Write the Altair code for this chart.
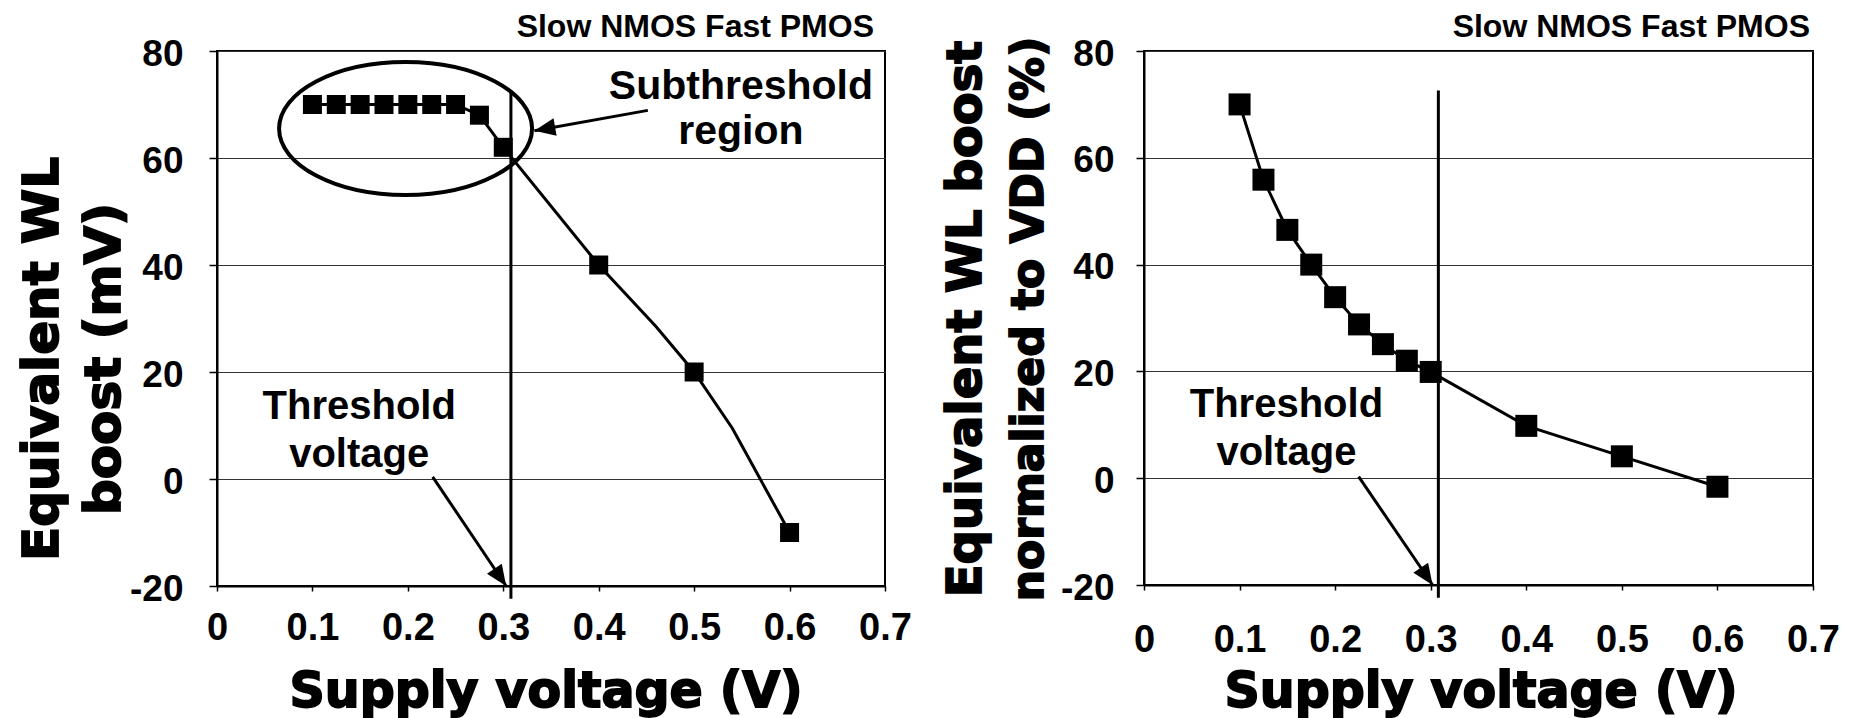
import altair as alt
import pandas as pd

# ---------------- data ----------------
left_x = [0.1, 0.125, 0.15, 0.175, 0.2, 0.225, 0.25, 0.275, 0.3, 0.4, 0.5, 0.6]
left_y = [70, 70, 70, 70, 70, 70, 70, 68, 62, 40, 20, -10]
# bends of the left curve that carry no marker
left_bend_x = [0.46, 0.54]
left_bend_y = [28.5, 9.5]

right_x = [0.1, 0.125, 0.15, 0.175, 0.2, 0.225, 0.25, 0.275, 0.3, 0.4, 0.5, 0.6]
right_y = [70, 55.9, 46.5, 40, 33.9, 28.8, 25.1, 22, 19.9, 9.8, 4.1, -1.6]

x_ticks = [0, 0.1, 0.2, 0.3, 0.4, 0.5, 0.6, 0.7]
y_ticks = [-20, 0, 20, 40, 60, 80]
x_domain = [0, 0.7]
y_domain = [-20, 80]

threshold_x = 0.308
threshold_y = [-22.4, 72.6]

corner_label = "Slow NMOS Fast PMOS"
x_title = "Supply voltage (V)"
left_y_title = ["Equivalent WL", "boost (mV)"]
right_y_title = ["Equivalent WL boost", "normalized to VDD (%)"]

threshold_text = ["Threshold", "voltage"]
threshold_text_x = 0.149
left_threshold_text_y = [11.3, 2.3]
right_threshold_text_y = [11.5, 2.4]

sub_text = ["Subthreshold", "region"]
sub_text_x = 0.549
sub_text_y = [71.0, 62.6]

# arrows: start x, start y, tip x, tip y, head angle (deg)
left_arrows_x0 = [0.226, 0.4515]
left_arrows_y0 = [0.4, 68.9]
left_arrows_x1 = [0.303, 0.3326]
left_arrows_y1 = [-20, 65.1]
left_arrows_ang = [145.9, 260]

right_arrows_x0 = [0.2246]
right_arrows_y0 = [0.3]
right_arrows_x1 = [0.302]
right_arrows_y1 = [-20]
right_arrows_ang = [145.5]

# ellipse around the subthreshold points
ellipse_x = [0.1976]
ellipse_y = [65.5]

# ---------------- styling ----------------
LAB = "Liberation Sans"
HEAVY = "DejaVu Sans"
ARROW_HEAD = "M0,0L0.85,2L-0.85,2Z"
ELLIPSE = ("M-1,0C-1,-0.2903,-0.5523,-0.5257,0,-0.5257"
           "C0.5523,-0.5257,1,-0.2903,1,0"
           "C1,0.2903,0.5523,0.5257,0,0.5257"
           "C-0.5523,0.5257,-1,0.2903,-1,0Z")

xs = alt.Scale(domain=x_domain, nice=False, zero=False)
ys = alt.Scale(domain=y_domain, nice=False, zero=False)


def make_axes(x_label_pad, y_label_pad):
    xa = alt.Axis(values=x_ticks, labelExpr="'' + datum.value", title=None,
                  grid=False,
                  tickSize=5, tickWidth=1.5, tickColor="black",
                  domainColor="black", domainWidth=2,
                  labelFont=LAB, labelFontSize=38, labelFontWeight="bold",
                  labelColor="black", labelPadding=x_label_pad,
                  labelFlush=False, labelOverlap=False)
    ya = alt.Axis(values=y_ticks, labelExpr="'' + datum.value", title=None,
                  grid=True, gridColor="#333333", gridWidth=1,
                  tickSize=8, tickWidth=1.5, tickColor="black",
                  domainColor="black", domainWidth=2,
                  labelFont=LAB, labelFontSize=37, labelFontWeight="bold",
                  labelColor="black", labelPadding=y_label_pad, labelOffset=3,
                  labelFlush=False, labelOverlap=False)
    return xa, ya


def pixel_text(text, px, py, font, size, angle=0, align="center", heavy=False):
    extra = {"stroke": "black", "strokeWidth": 1.8} if heavy else {}
    return alt.Chart(pd.DataFrame({"t": [text]})).mark_text(
        font=font, fontSize=size, fontWeight="bold", color="black",
        align=align, baseline="alphabetic", angle=angle, **extra
    ).encode(text="t:N", x=alt.value(px), y=alt.value(py))


def panel(px, py, bx, by, ax0, ay0, ax1, ay1, aang, th_y, marker_size,
          width, height, x_label_pad, y_label_pad, ytitle, ytitle_sizes,
          ytitle_x, ytitle_y, xtitle_x, corner_x, corner_y, with_sub):
    xa, ya = make_axes(x_label_pad, y_label_pad)

    def X(f):
        return alt.X(f"{f}:Q", scale=xs, axis=xa)

    def Y(f):
        return alt.Y(f"{f}:Q", scale=ys, axis=ya)

    line_df = pd.DataFrame({"x": px + bx, "y": py + by}).sort_values("x")
    mark_df = pd.DataFrame({"x": px, "y": py})

    layers = []
    layers.append(alt.Chart(line_df).mark_line(color="black", strokeWidth=3)
                  .encode(x=X("x"), y=Y("y")))
    layers.append(alt.Chart(mark_df).mark_square(size=marker_size, color="black",
                                                 opacity=1)
                  .encode(x=X("x"), y=Y("y")))
    vdf = pd.DataFrame({"x": [threshold_x], "y": [threshold_y[0]],
                        "y2": [threshold_y[1]]})
    layers.append(alt.Chart(vdf).mark_rule(color="black", strokeWidth=3)
                  .encode(x=X("x"), y=Y("y"), y2="y2:Q"))
    adf = pd.DataFrame({"x": ax0, "y": ay0, "x2": ax1, "y2": ay1, "ang": aang})
    layers.append(alt.Chart(adf).mark_rule(color="black", strokeWidth=3)
                  .encode(x=X("x"), y=Y("y"), x2="x2:Q", y2="y2:Q"))
    hdf = pd.DataFrame({"x": ax1, "y": ay1, "ang": aang})
    layers.append(alt.Chart(hdf).mark_point(shape=ARROW_HEAD, size=440,
                                            filled=True, color="black",
                                            opacity=1, strokeWidth=0)
                  .encode(x=X("x"), y=Y("y"),
                          angle=alt.Angle("ang:Q", scale=None)))
    tdf = pd.DataFrame({"x": [threshold_text_x] * 2, "y": th_y,
                        "t": threshold_text})
    layers.append(alt.Chart(tdf).mark_text(font=LAB, fontSize=40, fontWeight="bold",
                                           color="black", align="center",
                                           baseline="alphabetic")
                  .encode(x=X("x"), y=Y("y"), text="t:N"))
    if with_sub:
        sdf = pd.DataFrame({"x": [sub_text_x] * 2, "y": sub_text_y, "t": sub_text})
        layers.append(alt.Chart(sdf).mark_text(font=LAB, fontSize=41,
                                               fontWeight="bold", color="black",
                                               align="center",
                                               baseline="alphabetic")
                      .encode(x=X("x"), y=Y("y"), text="t:N"))
        edf = pd.DataFrame({"x": ellipse_x, "y": ellipse_y})
        layers.append(alt.Chart(edf).mark_point(shape=ELLIPSE, size=64009,
                                                filled=False, color="black",
                                                strokeWidth=4, opacity=1)
                      .encode(x=X("x"), y=Y("y")))

    # titles and corner label
    layers.append(pixel_text(corner_label, corner_x, corner_y, LAB, 32,
                             align="right"))
    layers.append(pixel_text(x_title, xtitle_x, 656, HEAVY, 49, heavy=True))
    layers.append(pixel_text(ytitle[0], ytitle_x[0], ytitle_y, HEAVY,
                             ytitle_sizes[0], angle=270, heavy=True))
    layers.append(pixel_text(ytitle[1], ytitle_x[1], ytitle_y, HEAVY,
                             ytitle_sizes[1], angle=270, heavy=True))

    return alt.layer(*layers).properties(width=width, height=height)


left = panel(left_x, left_y, left_bend_x, left_bend_y,
             left_arrows_x0, left_arrows_y0, left_arrows_x1, left_arrows_y1,
             left_arrows_ang, left_threshold_text_y, 361,
             668, 535, 18, 26, left_y_title, [50, 50], [-159, -97], 308,
             329, 657, -14, True)

right = panel(right_x, right_y, [], [],
              right_arrows_x0, right_arrows_y0, right_arrows_x1, right_arrows_y1,
              right_arrows_ang, right_threshold_text_y, 484,
              669, 534, 31, 22, right_y_title, [48, 44], [-163, -101], 268,
              337, 666, -14, False)

chart = alt.hconcat(left, right, spacing=259, bounds="flush").properties(
    padding={"left": 9, "top": 2, "right": 5, "bottom": 0},
    background="white",
).configure_view(stroke="black", strokeWidth=2)

chart.save("out.html", embed_options={"renderer": "svg", "actions": False})
